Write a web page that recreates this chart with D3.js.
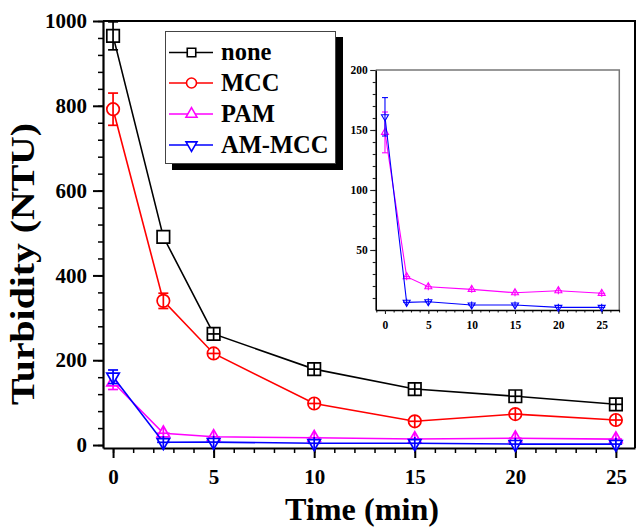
<!DOCTYPE html>
<html>
<head>
<meta charset="utf-8">
<script src="https://cdn.jsdelivr.net/npm/d3@7/dist/d3.min.js"></script>
<style>
  html, body { margin: 0; padding: 0; background: #fff; }
  svg { display: block; }
  svg text { font-family: "Liberation Serif", "Times New Roman", serif !important; font-weight: bold; fill: #000; }
</style>
</head>
<body>
<svg id="chart" width="636" height="528"></svg>
<script>
// Sampling times (min)
const time = [0, 2.5, 5, 10, 15, 20, 25];

// Residual turbidity (NTU) for each flocculant, with standard deviations
const none = [965, 491, 262, 179, 132, 115, 96];
const noneErr = [33, 0, 3, 3, 3, 3, 3];
const mcc = [792, 340, 216, 98, 56, 73, 59];
const mccErr = [38, 18, 3, 3, 3, 3, 3];
const pam = [148, 27.8, 19.4, 17.2, 14.4, 16.1, 13.9];
const pamErr = [17, 3, 3, 3, 3, 3, 3];
const amMcc = [161, 6.4, 6.9, 4.2, 4.2, 2.2, 2.2];
const amMccErr = [16, 3, 3, 3, 3, 3, 3];

const seriesNames = ["none", "MCC", "PAM", "AM-MCC"];
const seriesColors = ["#000000", "#ff0000", "#ff00ff", "#0000ff"];
const seriesShapes = ["square", "circle", "triangleUp", "triangleDown"];

// Axis ticks
const yTicksMain = [0, 200, 400, 600, 800, 1000];
const xTicksMain = [0, 5, 10, 15, 20, 25];
const yTicksInset = [50, 100, 150, 200];
const xTicksInset = [0, 5, 10, 15, 20, 25];

const FONT = "'Liberation Serif', 'Times New Roman', serif";

const series = [
  { name: seriesNames[0], values: none, err: noneErr },
  { name: seriesNames[1], values: mcc, err: mccErr },
  { name: seriesNames[2], values: pam, err: pamErr },
  { name: seriesNames[3], values: amMcc, err: amMccErr }
].map((s, i) => ({ ...s, color: seriesColors[i], shape: seriesShapes[i],
  points: time.map((t, j) => ({ t, v: s.values[j], e: s.err[j] })) }));

const svg = d3.select("#chart");

// Marker path of a given width, centred on (0,0)
function markerPath(shape, w) {
  if (shape === "square") return d3.symbol(d3.symbolSquare, w * w)();
  if (shape === "circle") return d3.symbol(d3.symbolCircle, Math.PI * (w / 2) * (w / 2))();
  return d3.symbol(d3.symbolTriangle, w * w * Math.sqrt(3) / 4)();
}

function drawPanel(g, x, y, list, opts) {
  const line = d3.line().x(d => x(d.t)).y(d => y(d.v));
  list.forEach(s => {
    const sg = g.append("g");
    sg.append("path")
      .attr("d", line(s.points))
      .attr("fill", "none")
      .attr("stroke", s.color)
      .attr("stroke-width", opts.lineWidth);

    const pts = sg.selectAll("g.pt").data(s.points).join("g")
      .attr("class", "pt")
      .attr("transform", d => `translate(${x(d.t)},${y(d.v)})`);

    pts.append("path")
      .attr("d", markerPath(s.shape, opts.marker))
      .attr("transform", s.shape === "triangleDown" ? "rotate(180)" : null)
      .attr("fill", "#fff")
      .attr("stroke", s.color)
      .attr("stroke-width", opts.markerStroke);

    // Errors smaller than the symbol are shown as a cross inside it
    const half = opts.marker / 2;
    pts.filter(d => d.e > 0 && d.e < 10).each(function () {
      const p = d3.select(this);
      p.append("line").attr("x1", 0).attr("x2", 0).attr("y1", -half).attr("y2", half)
        .attr("stroke", s.color).attr("stroke-width", opts.markerStroke);
      p.append("line").attr("x1", -half).attr("x2", half).attr("y1", 0).attr("y2", 0)
        .attr("stroke", s.color).attr("stroke-width", opts.markerStroke);
    });

    // Error bars with caps
    pts.filter(d => d.e >= 10).each(function (d) {
      const p = d3.select(this);
      const top = y(d.v + d.e) - y(d.v);
      const bot = y(d.v - d.e) - y(d.v);
      p.append("line").attr("x1", 0).attr("x2", 0).attr("y1", top).attr("y2", bot)
        .attr("stroke", s.color).attr("stroke-width", opts.markerStroke);
      [top, bot].forEach(cy => p.append("line")
        .attr("x1", -opts.cap).attr("x2", opts.cap).attr("y1", cy).attr("y2", cy)
        .attr("stroke", s.color).attr("stroke-width", opts.markerStroke));
    });
  });
}

function styleTickText(g, size) {
  g.attr("font-family", FONT);
  g.selectAll("text")
    .attr("font-size", size)
    .attr("font-family", FONT)
    .attr("font-weight", "bold");
}

// ---------- Main panel ----------
const main = { left: 103, right: 635, top: 21, bottom: 448 };
const x = d3.scaleLinear().domain([-0.5, 25.95]).range([main.left, main.right]);
const y = d3.scaleLinear().domain([-7, 1000]).range([main.bottom, main.top]);

// Frame (top and right sides)
svg.append("path")
  .attr("d", `M${main.left},${main.top}H${main.right}V${main.bottom}`)
  .attr("fill", "none").attr("stroke", "#000").attr("stroke-width", 2);

// Minor ticks
svg.append("g").attr("transform", `translate(0,${main.bottom})`)
  .call(d3.axisBottom(x).tickValues(d3.range(0, 26, 1)).tickSize(5).tickFormat("").tickSizeOuter(0))
  .call(g => g.select(".domain").remove())
  .call(g => g.selectAll("line").attr("stroke-width", 1.5));
svg.append("g").attr("transform", `translate(${main.left},0)`)
  .call(d3.axisLeft(y).tickValues(d3.range(0, 1001, 40)).tickSize(5).tickFormat("").tickSizeOuter(0))
  .call(g => g.select(".domain").remove())
  .call(g => g.selectAll("line").attr("stroke-width", 1.5));

// Major ticks with labels
svg.append("g").attr("transform", `translate(0,${main.bottom})`)
  .call(d3.axisBottom(x).tickValues(xTicksMain).tickFormat(d3.format("d")).tickSize(10).tickPadding(11).tickSizeOuter(0))
  .call(g => g.selectAll("line").attr("stroke-width", 2))
  .call(g => g.select(".domain").attr("stroke-width", 2.2))
  .call(g => styleTickText(g, 21));
svg.append("g").attr("transform", `translate(${main.left},0)`)
  .call(d3.axisLeft(y).tickValues(yTicksMain).tickFormat(d3.format("d")).tickSize(10).tickPadding(6).tickSizeOuter(0))
  .call(g => g.selectAll("line").attr("stroke-width", 2))
  .call(g => g.select(".domain").attr("stroke-width", 2.2))
  .call(g => styleTickText(g, 21));

drawPanel(svg.append("g"), x, y, series, { lineWidth: 1.6, marker: 12.5, markerStroke: 1.7, cap: 5 });

// Axis titles
svg.append("text")
  .attr("x", 362).attr("y", 520)
  .attr("text-anchor", "middle")
  .attr("font-family", FONT)
  .attr("font-size", 31)
  .attr("textLength", 154).attr("lengthAdjust", "spacingAndGlyphs")
  .text("Time (min)");
svg.append("text")
  .attr("transform", "translate(33.5,264) rotate(-90)")
  .attr("text-anchor", "middle")
  .attr("font-family", FONT)
  .attr("font-size", 33)
  .attr("textLength", 282).attr("lengthAdjust", "spacingAndGlyphs")
  .text("Turbidity (NTU)");

// ---------- Legend ----------
const lg = svg.append("g");
lg.append("rect").attr("x", 172).attr("y", 37).attr("width", 171).attr("height", 133).attr("fill", "#000");
lg.append("rect").attr("x", 165.5).attr("y", 31.5).attr("width", 170).attr("height", 132)
  .attr("fill", "#fff").attr("stroke", "#444").attr("stroke-width", 1);
const legendRowY = [52.5, 83, 114, 145];
series.forEach((s, i) => {
  const row = lg.append("g").attr("transform", `translate(0,${legendRowY[i]})`);
  row.append("line").attr("x1", 169).attr("x2", 213).attr("y1", 0).attr("y2", 0)
    .attr("stroke", s.color).attr("stroke-width", 1.4);
  row.append("path")
    .attr("d", markerPath(s.shape, s.shape === "square" ? 8.5 : s.shape === "circle" ? 10 : 11))
    .attr("transform", `translate(191.5,0)` + (s.shape === "triangleDown" ? " rotate(180)" : ""))
    .attr("fill", "#fff").attr("stroke", s.color).attr("stroke-width", 1.6);
  row.append("text").attr("x", 221).attr("y", 7.8)
    .attr("font-family", FONT).attr("font-size", 24.5).text(s.name);
});

// ---------- Inset: low-turbidity detail for the two polymer flocculants ----------
const ins = { left: 375.7, right: 619.3, top: 70, bottom: 310 };
const xi = d3.scaleLinear().domain([-1.07, 27.03]).range([ins.left, ins.right]);
const yi = d3.scaleLinear().domain([0, 200]).range([ins.bottom, ins.top]);
const inset = svg.append("g");

inset.append("path")
  .attr("d", `M${ins.left},${ins.top}H${ins.right}V${ins.bottom}`)
  .attr("fill", "none").attr("stroke", "#777").attr("stroke-width", 1.5);

inset.append("g").attr("transform", `translate(0,${ins.bottom})`)
  .call(d3.axisBottom(xi).tickValues(d3.range(-1, 28, 1)).tickSize(2.5).tickFormat("").tickSizeOuter(0))
  .call(g => g.select(".domain").remove());
inset.append("g").attr("transform", `translate(${ins.left},0)`)
  .call(d3.axisLeft(yi).tickValues(d3.range(10, 200, 10)).tickSize(3).tickFormat("").tickSizeOuter(0))
  .call(g => g.select(".domain").remove());
inset.append("g").attr("transform", `translate(0,${ins.bottom})`)
  .call(d3.axisBottom(xi).tickValues(xTicksInset).tickFormat(d3.format("d")).tickSize(4).tickPadding(6.5).tickSizeOuter(0))
  .call(g => g.select(".domain").attr("stroke-width", 1.6))
  .call(g => styleTickText(g, 11.5));
inset.append("g").attr("transform", `translate(${ins.left},0)`)
  .call(d3.axisLeft(yi).tickValues(yTicksInset).tickFormat(d3.format("d")).tickSize(5.5).tickPadding(2.5).tickSizeOuter(0))
  .call(g => g.select(".domain").attr("stroke-width", 1.6))
  .call(g => styleTickText(g, 11.5));
inset.selectAll(".tick line").attr("stroke", "#222").attr("stroke-width", 1.1);

drawPanel(inset.append("g"), xi, yi, series.slice(2), { lineWidth: 1.1, marker: 7, markerStroke: 1.1, cap: 3 });
</script>
</body>
</html>
